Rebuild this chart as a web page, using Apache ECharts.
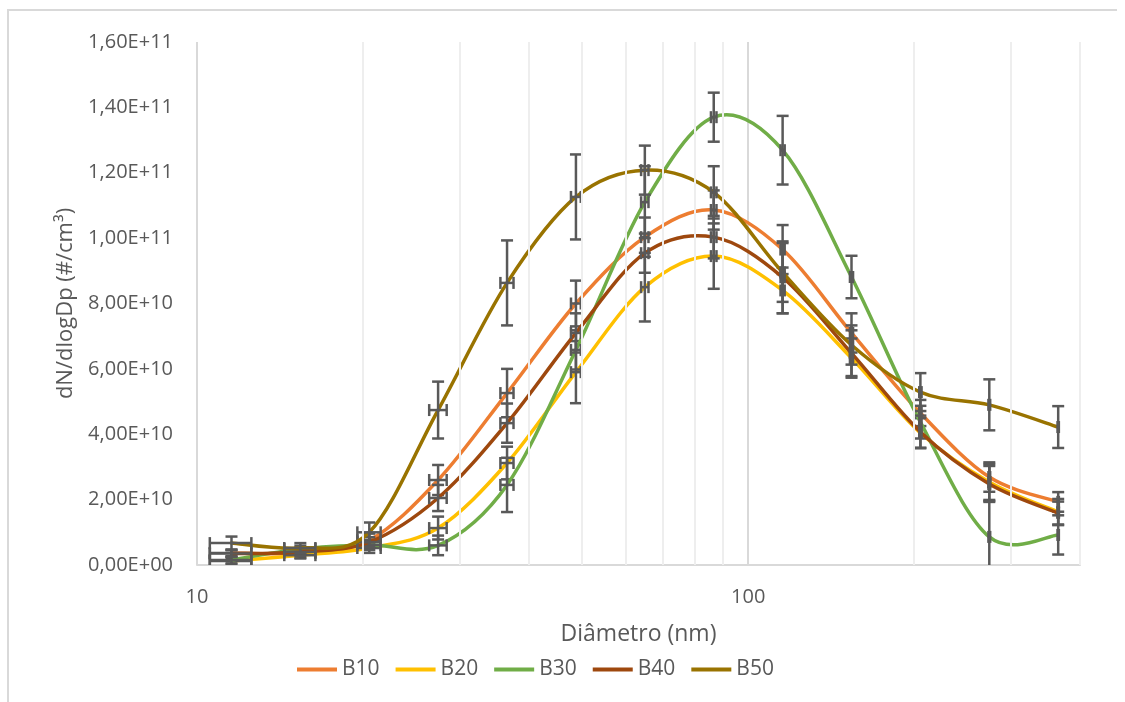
<!DOCTYPE html>
<html>
<head>
<meta charset="utf-8">
<title>dN/dlogDp</title>
<script src="https://cdn.jsdelivr.net/npm/echarts@6.0.0/dist/echarts.min.js"></script>
<style>
  html, body { margin: 0; padding: 0; background: #fff; }
  #chart { width: 1125px; height: 702px; }
</style>
</head>
<body>
<div id="chart"></div>
<script>
// diametros (nm)
const diameters = [11.55, 15.40, 20.54, 27.38, 36.52, 48.70, 64.94, 86.60, 115.48, 153.99, 205.35, 273.84, 365.17];
// erro do diametro (nm), igual para todos os pontos
const diamErr = 1;

// valores em unidades de 1E+10 #/cm3
const b10 = [0.37, 0.37, 0.76, 2.60, 5.26, 8.00, 10.03, 10.86, 9.65, 7.10, 4.65, 2.69, 1.93];
const b20 = [0.12, 0.30, 0.52, 1.13, 3.12, 5.90, 8.50, 9.45, 8.40, 6.33, 4.04, 2.54, 1.62];
const b30 = [0.15, 0.49, 0.61, 0.60, 2.45, 6.58, 11.10, 13.70, 12.69, 8.81, 4.37, 0.86, 0.92];
const b40 = [0.35, 0.40, 0.70, 2.05, 4.34, 7.10, 9.54, 10.03, 8.80, 6.48, 4.07, 2.48, 1.59];
const b50 = [0.67, 0.52, 1.00, 4.74, 8.63, 11.26, 12.08, 11.40, 8.95, 6.73, 5.29, 4.90, 4.22];

// desvios (mesma unidade)
const b10Err = [0.10, 0.15, 0.20, 0.46, 0.74, 0.70, 0.60, 0.60, 0.75, 0.60, 0.40, 0.45, 0.30];
const b20Err = [0.10, 0.10, 0.15, 0.35, 0.50, 0.95, 1.05, 1.00, 0.70, 0.60, 0.45, 0.55, 0.40];
const b30Err = [0.10, 0.10, 0.15, 0.30, 0.83, 0.60, 1.10, 0.75, 1.05, 0.65, 0.50, 1.10, 0.60];
const b40Err = [0.10, 0.12, 0.15, 0.40, 0.60, 0.60, 0.60, 0.65, 1.10, 0.70, 0.50, 0.55, 0.35];
const b50Err = [0.20, 0.15, 0.30, 0.87, 1.30, 1.30, 0.75, 0.80, 0.90, 0.60, 0.58, 0.78, 0.64];

const unit = 1e10;
const seriesNames = ['B10', 'B20', 'B30', 'B40', 'B50'];
const seriesValues = [b10, b20, b30, b40, b50];
const seriesErrors = [b10Err, b20Err, b30Err, b40Err, b50Err];
const colors = ['#ED7D31', '#FFC000', '#70AD47', '#9E480E', '#997300'];

// linhas de grade secundarias do eixo log
const minorGrid = [20, 30, 40, 50, 60, 70, 80, 90, 200, 300, 400];

const txt = '#595959';
const font = 'Open Sans';

// 1.6e11 -> "1,60E+11"
function sciLabel (v) {
  const parts = Number(v).toExponential(2).split('e');
  const ex = parseInt(parts[1], 10);
  return parts[0].replace('.', ',') + 'E' + (ex < 0 ? '-' : '+') + String(Math.abs(ex)).padStart(2, '0');
}

// curva suavizada tipo Excel (catmull-rom) entre o ponto k e k+1
function makeCurve (vals, color) {
  return function (params, api) {
    const n = diameters.length;
    const k = params.dataIndex;
    if (k >= n - 1) return null;
    const pt = function (j) {
      j = Math.max(0, Math.min(n - 1, j));
      return api.coord([diameters[j], vals[j] * unit]);
    };
    const p0 = pt(k - 1);
    const p1 = pt(k);
    const p2 = pt(k + 1);
    const p3 = pt(k + 2);
    const t = 1 / 6;
    return {
      type: 'bezierCurve',
      shape: {
        x1: p1[0], y1: p1[1],
        x2: p2[0], y2: p2[1],
        cpx1: p1[0] + (p2[0] - p0[0]) * t,
        cpy1: p1[1] + (p2[1] - p0[1]) * t,
        cpx2: p2[0] - (p3[0] - p1[0]) * t,
        cpy2: p2[1] - (p3[1] - p1[1]) * t
      },
      style: { stroke: color, lineWidth: 3.5, fill: null, lineCap: 'round' }
    };
  };
}

function renderErrorBar (params, api) {
  const x = api.value(0);
  const y = api.value(1);
  const e = api.value(2);
  const top = api.coord([x, y + e]);
  const bot = api.coord([x, y - e]);
  const left = api.coord([x - diamErr, y]);
  const right = api.coord([x + diamErr, y]);
  const cap = 6;
  const style = { stroke: '#595959', lineWidth: 2.5 };
  const seg = function (x1, y1, x2, y2) {
    return { type: 'line', shape: { x1: x1, y1: y1, x2: x2, y2: y2 }, style: style };
  };
  return {
    type: 'group',
    children: [
      seg(top[0], top[1], bot[0], bot[1]),
      seg(top[0] - cap, top[1], top[0] + cap, top[1]),
      seg(bot[0] - cap, bot[1], bot[0] + cap, bot[1]),
      seg(left[0], left[1], right[0], right[1]),
      seg(left[0], left[1] - cap, left[0], left[1] + cap),
      seg(right[0], right[1] - cap, right[0], right[1] + cap)
    ]
  };
}

const series = [{
  name: 'grade',
  type: 'line',
  data: [],
  silent: true,
  z: 1,
  markLine: {
    silent: true,
    symbol: 'none',
    label: { show: false },
    lineStyle: { color: '#eeeeee', width: 2, type: 'solid' },
    data: minorGrid.map(function (d) { return { xAxis: d }; })
  }
}];

seriesNames.forEach(function (name, i) {
  series.push({
    name: name,
    type: 'custom',
    z: 2,
    clip: true,
    silent: true,
    itemStyle: { color: colors[i] },
    renderItem: makeCurve(seriesValues[i], colors[i]),
    encode: { x: 0, y: 1 },
    data: diameters.map(function (d, k) { return [d, seriesValues[i][k] * unit]; })
  });
  series.push({
    name: name + ' erro',
    type: 'custom',
    z: 2,
    clip: true,
    silent: true,
    renderItem: renderErrorBar,
    encode: { x: 0, y: 1 },
    data: diameters.map(function (d, k) {
      return [d, seriesValues[i][k] * unit, seriesErrors[i][k] * unit];
    })
  });
});

const chart = echarts.init(document.getElementById('chart'));
chart.setOption({
  animation: false,
  backgroundColor: '#ffffff',
  textStyle: { fontFamily: font },
  graphic: [{
    type: 'polyline',
    shape: { points: [[8, 702], [8, 10], [1117, 10]] },
    style: { stroke: '#d9d9d9', lineWidth: 2, fill: null }
  }],
  grid: {
    left: 197,
    right: 45,
    top: 42,
    bottom: 137,
    containLabel: false
  },
  legend: {
    data: seriesNames.map(function (n, i) {
      return { name: n, itemStyle: { color: colors[i] } };
    }),
    left: 292,
    top: 654,
    icon: 'rect',
    itemWidth: 40,
    itemHeight: 4,
    itemGap: 16,
    textStyle: { color: txt, fontSize: 21, fontFamily: font }
  },
  xAxis: {
    type: 'log',
    logBase: 10,
    min: 10,
    max: 400,
    name: 'Diâmetro (nm)',
    nameLocation: 'middle',
    nameGap: 58,
    nameTextStyle: { color: txt, fontSize: 23, fontFamily: font },
    axisLine: { show: true, lineStyle: { color: '#d9d9d9', width: 2 } },
    axisTick: { show: false },
    axisLabel: { color: txt, fontSize: 20, margin: 22, fontFamily: font, showMaxLabel: false },
    splitLine: { show: true, lineStyle: { color: '#d9d9d9', width: 2 } }
  },
  yAxis: {
    type: 'value',
    min: 0,
    max: 1.6e11,
    interval: 2e10,
    name: 'dN/dlogDp (#/cm³)',
    nameLocation: 'middle',
    nameGap: 110,
    nameTextStyle: { color: txt, fontSize: 22, fontFamily: font },
    axisLine: { show: false },
    axisTick: { show: false },
    splitLine: { show: false },
    axisLabel: { color: txt, fontSize: 20, margin: 24, fontFamily: font, formatter: sciLabel }
  },
  series: series
});
</script>
</body>
</html>
